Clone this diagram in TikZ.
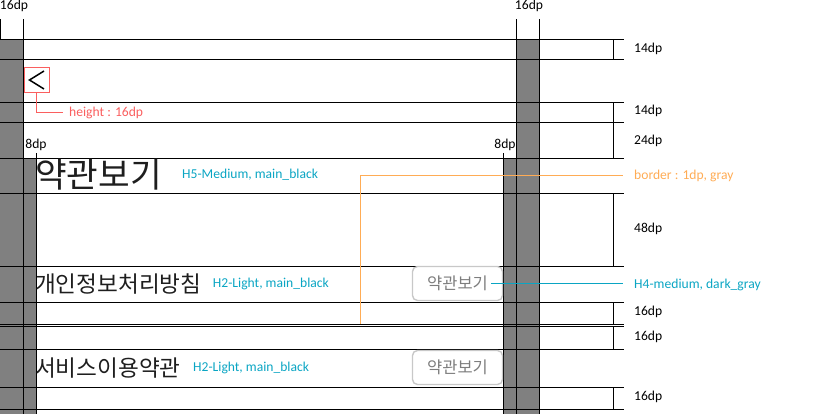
\documentclass[tikz,border=0pt]{standalone}
\usepackage{fontspec}
\setmainfont{Carlito}
\newfontfamily\kr{Noto Sans CJK KR}
\usetikzlibrary{positioning}
\definecolor{markred}{RGB}{250,95,95}
\definecolor{markorange}{RGB}{255,172,85}
\definecolor{markteal}{RGB}{10,165,195}
\definecolor{colgray}{RGB}{128,128,128}
\definecolor{btnline}{RGB}{200,200,200}
\definecolor{btntext}{RGB}{125,125,125}
\definecolor{mainblack}{RGB}{30,30,30}

\begin{document}
\begin{tikzpicture}[
  x = 1pt, y = -1pt,
  grid/.style = {line width = 1pt},
  dim/.style = {font = \fontsize{13.6}{15}\selectfont, inner sep = 0pt},
  note/.style = {dim, text = markteal},
  headline/.style = {font = \kr\fontsize{34.4}{38}\selectfont, text = mainblack, inner sep = 0pt, anchor = west},
  item/.style = {font = \kr\fontsize{22.6}{26}\selectfont, text = mainblack, inner sep = 0pt, anchor = west},
  btn/.style = {draw = btnline, line width = 1.4pt, rounded corners = 5pt,
                minimum width = 90pt, minimum height = 34pt,
                font = \kr\fontsize{16.5}{18}\selectfont, text = btntext},
  ]
  \useasboundingbox (0,0) rectangle (820,414);

  % gray margin columns
  \fill[colgray] (0,39) rectangle (23,414);
  \fill[colgray] (23,158) rectangle (36,414);
  \fill[colgray] (503,158) rectangle (516,414);
  \fill[colgray] (516,39) rectangle (539,414);

  \begin{scope}[shift = {(0.5,0.5)}]
    % rows
    \foreach \y in {39,59,102,122,158,193,266,302,324,326,349,387,409}
      \draw[grid] (-1,\y) -- (623,\y);

    % column edges
    \draw[grid] (0,19) -- (0,39);
    \draw[grid] (23,19) -- (23,415);
    \draw[grid] (36,153) -- (36,415);
    \draw[grid] (503,153) -- (503,415);
    \draw[grid] (516,19) -- (516,415);
    \draw[grid] (539,19) -- (539,415);

    % row height ticks
    \foreach \a/\b in {39/59,102/158,193/266,302/324,326/349,387/409}
      \draw[grid] (613,\a) -- (613,\b);
  \end{scope}

  % width labels
  \node[dim] (wLeft) at (14,6) {16dp};
  \node[dim] (wRight) at (529,6) {16dp};
  \node[dim] (pLeft) at (36,145) {8dp};
  \node[dim] (pRight) at (505,145) {8dp};

  % height labels
  \node[dim, anchor = west] (h1) at (634,49) {14dp};
  \node[dim, anchor = west] (h2) at (634,111) {14dp};
  \node[dim, anchor = west] (h3) at (634,141) {24dp};
  \node[dim, anchor = west] (h4) at (634,229) {48dp};
  \node[dim, anchor = west] (h5) at (634,312) {16dp};
  \node[dim, anchor = west] (h6) at (634,337) {16dp};
  \node[dim, anchor = west] (h7) at (634,397) {16dp};

  % back button
  \node[draw = markred, line width = 1pt, minimum width = 25pt, minimum height = 25pt, inner sep = 0pt] (back) at (36.5,80) {};
  \draw[line width = 1.5pt] ([shift = {(7.5,-9)}]back.center) -- ([shift = {(-7,0)}]back.center) -- ([shift = {(7.5,9)}]back.center);
  \node[dim, text = markred, anchor = west] (backNote) at (69,112.5) {height : 16dp};
  \draw[markred, line width = 1pt] (back.south) |- ([xshift = -6pt]backNote.west);

  % title
  \node[headline] (title) at (35,175) {약관보기};
  \node[note, right = 20pt of title] (titleNote) {H5-Medium, main\_black};

  % list items
  \node[item] (privacy) at (35,284) {개인정보처리방침};
  \node[note, right = 11pt of privacy] (privacyNote) {H2-Light, main\_black};
  \node[item] (terms) at (35,368) {서비스이용약관};
  \node[note, right = 12pt of terms] (termsNote) {H2-Light, main\_black};

  % buttons
  \node[btn] (btnPrivacy) at (457.5,283.5) {약관보기};
  \node[btn] (btnTerms) at (457.5,367.5) {약관보기};

  % notes on the right
  \node[dim, text = markorange, anchor = west] (borderNote) at (634,175.5) {border : 1dp, gray};
  \node[note, anchor = west] (btnNote) at (634,285) {H4-medium, dark\_gray};
  \coordinate (borderEnd) at (360.5,324);
  \draw[markorange, line width = 1pt] (borderEnd) |- ([xshift = -11pt]borderNote.west);
  \draw[markteal, line width = 1pt] ([xshift = -12pt]btnPrivacy.east) -- ([xshift = -11pt]btnPrivacy.east -| btnNote.west);
\end{tikzpicture}
\end{document}
